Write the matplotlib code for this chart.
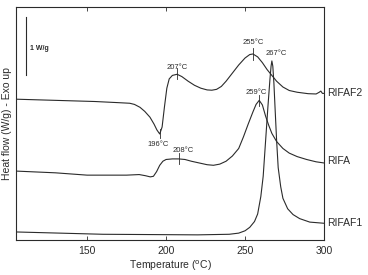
import matplotlib

matplotlib.use('Agg')

import matplotlib.pyplot as plt

plt.rcParams['font.family'] = ['Liberation Sans', 'DejaVu Sans']

# temperature (C) / heat flow (W/g, offset)
rifaf2_t = [105, 130, 155, 170, 177, 180, 183.5, 186.5, 189.8, 192.4, 194.2, 196,
            197.5, 199, 200.5, 202, 204, 207, 210, 214, 218, 222, 226, 229, 232,
            235, 238, 242, 246, 250, 253, 255, 258, 261, 264, 267, 270, 274, 278,
            283, 290, 295, 297, 298, 299, 300]
rifaf2_y = [2.43, 2.41, 2.39, 2.37, 2.36, 2.34, 2.29, 2.22, 2.12, 2.00, 1.90, 1.83,
            1.95, 2.30, 2.62, 2.78, 2.84, 2.86, 2.82, 2.74, 2.67, 2.62, 2.59, 2.585, 2.60,
            2.65, 2.74, 2.88, 3.02, 3.14, 3.20, 3.21, 3.16, 3.06, 2.94, 2.84, 2.74, 2.64, 2.58,
            2.55, 2.525, 2.52, 2.55, 2.57, 2.53, 2.53]

rifa_t = [105, 130, 150, 175, 183, 187, 190, 192, 194, 196, 198, 200, 204, 208, 212,
          216, 221, 226, 230, 234, 238, 242, 246, 249, 252, 255, 257, 259, 261, 263,
          265, 267, 270, 274, 278, 283, 289, 295, 300]
rifa_y = [1.19, 1.16, 1.12, 1.12, 1.13, 1.11, 1.09, 1.10, 1.18, 1.29, 1.36, 1.39, 1.40,
          1.40, 1.39, 1.36, 1.33, 1.30, 1.29, 1.31, 1.36, 1.45, 1.58, 1.78, 2.00, 2.21,
          2.34, 2.41, 2.33, 2.14, 1.98, 1.84, 1.70, 1.58, 1.50, 1.44, 1.39, 1.35, 1.33]

rifaf1_t = [105, 160, 220, 240, 246, 250, 253, 256, 258, 260, 261.5, 263, 264.5, 265.8,
            266.5, 267, 267.6, 268.3, 269, 270, 271, 272.6, 274, 277, 280.4, 284.6, 291, 300]
rifaf1_y = [0.14, 0.10, 0.09, 0.10, 0.12, 0.16, 0.22, 0.32, 0.45, 0.75, 1.10, 1.70, 2.30,
            2.78, 3.00, 3.09, 3.00, 2.70, 2.29, 1.72, 1.25, 0.92, 0.72, 0.54, 0.44, 0.37,
            0.31, 0.29]

# peak annotations: (text, label x, label y, tick x, tick y0, tick y1)
peaks = [
    ('207°C', 207, 2.98, 207, 2.77, 2.96),
    ('196°C', 194.9, 1.64, 196, 1.76, 1.92),
    ('208°C', 210.7, 1.55, 208, 1.31, 1.50),
    ('255°C', 255, 3.40, 255, 3.11, 3.32),
    ('267°C', 270, 3.21, None, None, None),
    ('259°C', 257, 2.55, 259, 2.32, 2.50),
]

curve_names = ['RIFAF2', 'RIFA', 'RIFAF1']
curve_ends = [2.53, 1.37, 0.29]

LINE = '#2b2b2b'

fig = plt.figure(figsize=(3.68, 2.75), dpi=100)
ax = fig.add_axes([0.0435, 0.127, 0.8369, 0.8475])

for t, y in [(rifaf2_t, rifaf2_y), (rifa_t, rifa_y), (rifaf1_t, rifaf1_y)]:
    ax.plot(t, y, color=LINE, linewidth=0.8)

for text, lx, ly, tx, y0, y1 in peaks:
    ax.text(lx, ly, text, fontsize=5.5, ha='center', va='center', color=LINE)
    if tx is not None:
        ax.plot([tx, tx], [y0, y1], color=LINE, linewidth=0.6)

for name, yend in zip(curve_names, curve_ends):
    ax.text(302, yend, name, fontsize=7.5, ha='left', va='center', color=LINE)

# 1 W/g scale bar
ax.plot([111.3, 111.3], [2.84, 3.84], color=LINE, linewidth=0.8)
ax.text(114, 3.31, '1 W/g', fontsize=5, fontweight='bold', va='center', color=LINE)

ax.set_xlim(105, 300)
ax.set_ylim(0, 4.02)
ax.set_xticks([150, 200, 250, 300])
ax.set_yticks([])
ax.tick_params(axis='x', direction='in', top=True, length=3, width=0.6,
               labelsize=7.5, pad=4, colors=LINE)
for spine in ax.spines.values():
    spine.set_linewidth(0.8)
    spine.set_color(LINE)

ax.set_xlabel('Temperature ($^{\\rm o}$C)', fontsize=7.5, color=LINE, labelpad=2)
ax.set_ylabel('Heat flow (W/g) - Exo up', fontsize=7.5, color=LINE, labelpad=3)

fig.savefig('out.png', dpi=100)
plt.close(fig)
